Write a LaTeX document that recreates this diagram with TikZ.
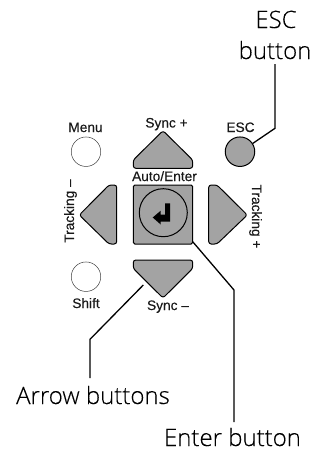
\documentclass[tikz,border=0pt]{standalone}
\usepackage{fontspec}
\setmainfont[FakeBold=0.25]{Liberation Sans}
\newfontfamily\callfont[Ligatures=NoCommon,FakeBold=0.15]{Open Sans Light}
\definecolor{halftone}{gray}{0.64}
\tikzset{
  btn/.style={draw=black,line width=1pt,fill=halftone,rounded corners=2.5pt,line join=round},
  plainbtn/.style={circle,draw=black!75,line width=0.5pt,fill=white,minimum size=29.5pt,inner sep=0pt},
  escbtn/.style={circle,draw=black,line width=1pt,fill=halftone,minimum size=29.5pt,inner sep=0pt},
  enterbtn/.style={rectangle,draw=black,line width=1pt,fill=halftone,rounded corners=1.5pt,minimum width=59.4pt,minimum height=59pt,inner sep=0pt},
  dial/.style={circle,draw=black,line width=1pt,fill=halftone,minimum size=48pt,inner sep=0pt},
  lab/.style={font=\fontsize{13.7}{15}\selectfont,text=black!90,inner sep=0pt,anchor=base},
  call/.style={font=\callfont\fontsize{24}{26}\selectfont,inner sep=0pt,anchor=base},
  leader/.style={draw=black,line width=1.3pt,line join=miter}
}
\begin{document}
\begin{tikzpicture}[x=1pt,y=-1pt]
\useasboundingbox[fill=white] (0,0) rectangle (325,451);
% buttons
\draw[btn] (163,130.7) -- (192.7,160) -- (192.7,168.3) -- (133.3,168.3) -- (133.3,160) -- cycle;
\draw[btn] (79.3,215) -- (109,185) -- (116.7,185) -- (116.7,244) -- (109,244) -- cycle;
\draw[btn] (247.3,215) -- (217,185) -- (208.7,185) -- (208.7,244) -- (217,244) -- cycle;
\draw[btn] (163,298) -- (192.7,268.5) -- (192.7,260) -- (133.3,260) -- (133.3,268.5) -- cycle;
\node[enterbtn] (enter) at (163,214.5) {};
\node[dial] (dial) at (163.3,212.7) {};
\fill[black] (165,203.3) -- (170,203.3) -- (170,221.7) -- (160.7,221.7) -- (160.7,224.5) -- (152.7,217.5) -- (160.7,210.7) -- (160.7,214.5) -- (165,214.5) -- cycle;
\node[plainbtn] (menu) at (86,151.7) {};
\node[plainbtn] (shift) at (86,276.7) {};
\node[escbtn] (esc) at (240,151.7) {};
% small labels
\node[lab] at (85.5,132) {Menu};
\node[lab] at (166.5,127.5) {Sync +};
\node[lab] at (240.5,132) {ESC};
\node[lab] at (164.5,181) {Auto/Enter};
\node[lab] at (86,308) {Shift};
\node[lab] at (168,310) {Sync –};
\node[lab,rotate=90,anchor=base] at (74,211) {Tracking –};
\node[lab,rotate=-90,anchor=base] at (252,216.5) {Tracking +};
% callouts
\node[call] (lesc) at (276,28) {ESC};
\node[call] (lescb) at (275,59) {button};
\node[call] (larrow) at (93,404) {Arrow buttons};
\node[call] (lenter) at (232.5,446) {Enter button};
% leaders
\coordinate (c1) at (275,128.3);
\coordinate (c1t) at (275,64);
\coordinate (c2) at (234,290);
\coordinate (c2b) at (234,422);
\coordinate (c3a) at (143.3,285);
\coordinate (c3) at (90,339.3);
\coordinate (c3b) at (90,378);
\coordinate (c2a) at (192.7,241.7);
\draw[leader] (esc.33) -- (c1) -- (c1t);
\draw[leader] (c2a) -- (c2) -- (c2b);
\draw[leader] (c3a) -- (c3) -- (c3b);
\end{tikzpicture}
\end{document}
